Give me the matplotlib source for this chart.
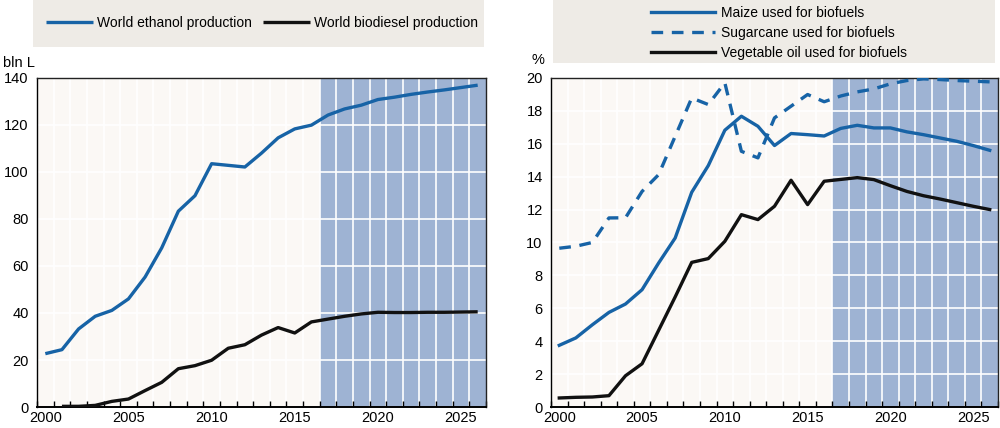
import matplotlib
matplotlib.use("Agg")
import matplotlib.pyplot as plt
from matplotlib.patches import Rectangle
import numpy as np

plt.rcParams['font.family'] = ['Liberation Sans', 'DejaVu Sans']
FS = 10.5
LFS = 10

years = list(range(2000, 2027))
years_bio = list(range(2001, 2027))

ethanol = [22.7, 24.4, 33.2, 38.6, 41.1, 46.0, 55.3, 67.7, 83.3, 89.9, 103.5, 102.8,
           102.1, 108.0, 114.5, 118.3, 119.9, 124.2, 126.8, 128.4, 130.8, 131.8,
           133.0, 134.0, 134.9, 135.9, 136.9]
biodiesel = [0.3, 0.3, 0.7, 2.4, 3.4, 7.0, 10.5, 16.3, 17.6, 19.9, 25.0, 26.5, 30.6,
             33.8, 31.5, 36.2, 37.4, 38.6, 39.6, 40.3, 40.2, 40.2, 40.3, 40.3, 40.4, 40.5]

maize = [3.75, 4.2, 5.0, 5.75, 6.26, 7.13, 8.75, 10.27, 13.05, 14.67, 16.82, 17.67,
         17.06, 15.89, 16.62, 16.55, 16.47, 16.93, 17.12, 16.96, 16.96, 16.72, 16.55,
         16.35, 16.15, 15.89, 15.6]
sugarcane = [9.65, 9.77, 10.0, 11.49, 11.5, 13.1, 14.12, 16.45, 18.78, 18.38, 19.7,
             15.54, 15.14, 17.57, 18.28, 18.99, 18.55, 18.9, 19.15, 19.33, 19.64, 19.84,
             19.94, 19.9, 19.84, 19.8, 19.76]
vegoil = [0.55, 0.59, 0.61, 0.69, 1.9, 2.63, 4.66, 6.69, 8.79, 9.02, 10.07, 11.69,
          11.39, 12.2, 13.78, 12.3, 13.72, 13.83, 13.94, 13.82, 13.45, 13.1, 12.84,
          12.64, 12.42, 12.2, 12.0]

proj_start, proj_end = 2016.5, 2026.5
left_ticks = [0, 20, 40, 60, 80, 100, 120, 140]
right_ticks = [0, 2, 4, 6, 8, 10, 12, 14, 16, 18, 20]
x_labels = [2000, 2005, 2010, 2015, 2020, 2025]

BLUE = '#1763A6'
BLACK = '#111111'
SHADE = '#9EB3D3'
AXBG = '#FBF8F5'
LEGBG = '#EEEBE6'

fig = plt.figure(figsize=(10, 4.28), dpi=100)
ax1 = fig.add_axes([0.037, 0.049, 0.449, 0.769])
ax2 = fig.add_axes([0.551, 0.049, 0.447, 0.769])

def style(ax, yticks):
    ax.set_facecolor(AXBG)
    ax.set_xlim(1999.5, 2026.5)
    ax.set_ylim(yticks[0], yticks[-1])
    ax.axvspan(proj_start, proj_end, color=SHADE, zorder=0.5, lw=0)
    ax.set_yticks(yticks)
    ax.set_xticks(x_labels)
    ax.set_xticks(np.arange(1999.5, 2027, 1.0), minor=True)
    ax.tick_params(axis='x', which='major', length=0, labelsize=FS, pad=3)
    ax.tick_params(axis='x', which='minor', direction='in', length=4, width=1, color='black')
    ax.tick_params(axis='y', length=0, labelsize=FS, pad=6)
    for yv in yticks[1:-1]:
        ax.axhline(yv, color='white', lw=1.2, zorder=1)
    for xv in np.arange(2000.5, 2026.5, 1.0):
        ax.axvline(xv, color='white', lw=1.2, zorder=1)
    for s in ax.spines.values():
        s.set_color('#222222')
        s.set_linewidth(1.0)
    ax.spines['bottom'].set_linewidth(1.4)
    ax.spines['bottom'].set_color('black')
    ax.spines['left'].set_color('black')

style(ax1, left_ticks)
style(ax2, right_ticks)

ax1.plot(years, ethanol, color=BLUE, lw=2.4, zorder=3, solid_capstyle='butt',
         label='World ethanol production')
ax1.plot(years_bio, biodiesel, color=BLACK, lw=2.4, zorder=3, solid_capstyle='butt',
         label='World biodiesel production')

ax2.plot(years, maize, color=BLUE, lw=2.4, zorder=3, label='Maize used for biofuels')
ax2.plot(years, sugarcane, color=BLUE, lw=2.4, zorder=3, dashes=(3.5, 2.6),
         label='Sugarcane used for biofuels')
ax2.plot(years, vegoil, color=BLACK, lw=2.4, zorder=3, label='Vegetable oil used for biofuels')

# legend boxes
fig.patches.append(Rectangle((0.033, 0.890), 0.451, 0.110, transform=fig.transFigure,
                             facecolor=LEGBG, edgecolor='none', zorder=0))
fig.patches.append(Rectangle((0.553, 0.853), 0.442, 0.147, transform=fig.transFigure,
                             facecolor=LEGBG, edgecolor='none', zorder=0))

h1, l1 = ax1.get_legend_handles_labels()
fig.legend(h1, l1, loc='center', bbox_to_anchor=(0.262, 1 - 23 / 428), ncol=2,
           frameon=False, fontsize=LFS, handlelength=3.4, handletextpad=0.3,
           columnspacing=0.8, borderpad=0)
h2, l2 = ax2.get_legend_handles_labels()
fig.legend(h2, l2, loc='center', bbox_to_anchor=(0.779, 1 - 33 / 428), ncol=1,
           frameon=False, fontsize=LFS, handlelength=4.6, handletextpad=0.4,
           labelspacing=0.42, borderpad=0)

fig.text(0.003, 1 - 63 / 428, 'bln L', fontsize=FS, va='center', ha='left')
fig.text(0.532, 1 - 60 / 428, '%', fontsize=FS, va='center', ha='left')

fig.savefig('out.png', dpi=100)
